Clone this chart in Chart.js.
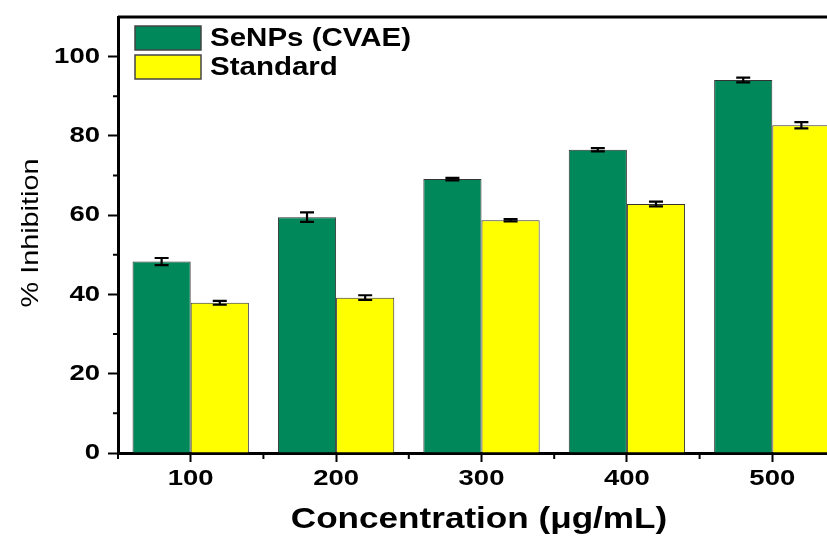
<!DOCTYPE html>
<html>
<head>
<meta charset="utf-8">
<script src="https://cdn.jsdelivr.net/npm/chart.js@4.4.0/dist/chart.umd.min.js"></script>
<style>
  html, body { margin: 0; padding: 0; background: #fff; overflow: hidden; }
  #wrap { width: 827px; height: 536px; overflow: hidden; }
</style>
</head>
<body>
<div id="wrap"><canvas id="graph_canvas" width="845" height="536"></canvas></div>
<script>
const CONCENTRATIONS = ['100', '200', '300', '400', '500'];
const SENPS_VALUES = [48.3, 59.5, 69.1, 76.5, 94.1];
const SENPS_ERRORS = [0.9, 1.2, 0.3, 0.4, 0.6];
const STANDARD_VALUES = [37.9, 39.2, 58.7, 62.8, 82.7];
const STANDARD_ERRORS = [0.5, 0.6, 0.3, 0.6, 0.8];
const Y_MINOR_TICKS = [10, 30, 50, 70, 90];

const GREEN = '#01885a';
const YELLOW = '#ffff00';
const FONT = 'Arial, "Liberation Sans", sans-serif';
const TICK_FONT = 'bold 22px ' + FONT;

// text with a horizontal stretch, the original figure is wider than tall
function stretchedText(ctx, text, x, y, font, sx, angle, align) {
    ctx.save();
    ctx.translate(x, y);
    if (angle) ctx.rotate(angle);
    ctx.scale(sx, 1);
    ctx.font = font;
    ctx.fillStyle = '#000';
    ctx.textAlign = align || 'center';
    ctx.textBaseline = 'middle';
    ctx.fillText(text, 0, 0);
    ctx.restore();
}

const extras = {
    id: 'extras',
    afterDatasetsDraw(chart) {
        // error bars
        const ctx = chart.ctx;
        const yScale = chart.scales.y;
        ctx.save();
        ctx.strokeStyle = '#000';
        ctx.lineWidth = 2.2;
        chart.data.datasets.forEach((ds, i) => {
            chart.getDatasetMeta(i).data.forEach((bar, j) => {
                const top = yScale.getPixelForValue(ds.data[j] + ds.errors[j]);
                const bot = yScale.getPixelForValue(ds.data[j] - ds.errors[j]);
                ctx.beginPath();
                ctx.moveTo(bar.x, top);
                ctx.lineTo(bar.x, bot);
                ctx.moveTo(bar.x - 7, top);
                ctx.lineTo(bar.x + 7, top);
                ctx.moveTo(bar.x - 7, bot);
                ctx.lineTo(bar.x + 7, bot);
                ctx.stroke();
            });
        });
        ctx.restore();
    },
    afterDraw(chart) {
        const ctx = chart.ctx;
        const area = chart.chartArea;
        const xScale = chart.scales.x;
        const yScale = chart.scales.y;
        ctx.save();
        ctx.strokeStyle = '#000';

        // frame top and right
        ctx.lineWidth = 3;
        ctx.beginPath();
        ctx.moveTo(area.left, area.top);
        ctx.lineTo(area.right, area.top);
        ctx.lineTo(area.right, area.bottom);
        ctx.stroke();

        // minor ticks
        ctx.lineWidth = 2;
        ctx.beginPath();
        Y_MINOR_TICKS.forEach(v => {
            const py = yScale.getPixelForValue(v);
            ctx.moveTo(area.left - 5, py);
            ctx.lineTo(area.left, py);
        });
        const n = CONCENTRATIONS.length;
        for (let i = 0; i < n; i++) {
            const px = xScale.left + i * xScale.width / n;
            ctx.moveTo(px, area.bottom);
            ctx.lineTo(px, area.bottom + 6);
        }
        ctx.stroke();

        // tick labels (drawn here so they can be widened like the original)
        yScale.ticks.forEach((t, i) => {
            stretchedText(ctx, String(t.value), area.left - 18, yScale.getPixelForTick(i), TICK_FONT, 1.25, 0, 'right');
        });
        xScale.ticks.forEach((t, i) => {
            stretchedText(ctx, CONCENTRATIONS[t.value], xScale.getPixelForTick(i), 479, TICK_FONT, 1.25, 0);
        });

        // legend
        chart.data.datasets.forEach((ds, i) => {
            const top = 26 + i * 29;
            ctx.fillStyle = ds.backgroundColor;
            ctx.fillRect(135, top, 66, 24);
            ctx.lineWidth = 1.5;
            ctx.strokeStyle = '#444';
            ctx.strokeRect(135, top, 66, 24);
            stretchedText(ctx, ds.label, 210, top + 13, 'bold 25px ' + FONT, 1.18, 0, 'left');
        });

        // axis titles
        stretchedText(ctx, '% Inhibition', 31, 233, '24px ' + FONT, 1.2, -Math.PI / 2);
        stretchedText(ctx, 'Concentration (\u03bcg/mL)', 479, 520, 'bold 30px ' + FONT, 1.17, 0);
        ctx.restore();
    }
};

var graph = new Chart(document.getElementById('graph_canvas'), {
    type: 'bar',
    data: {
        labels: CONCENTRATIONS,
        datasets: [{
            label: 'SeNPs (CVAE)',
            data: SENPS_VALUES,
            errors: SENPS_ERRORS,
            backgroundColor: GREEN,
            borderColor: '#333',
            borderWidth: 1
        }, {
            label: 'Standard',
            data: STANDARD_VALUES,
            errors: STANDARD_ERRORS,
            backgroundColor: YELLOW,
            borderColor: '#333',
            borderWidth: 1
        }]
    },
    options: {
        responsive: false,
        animation: false,
        layout: { padding: { top: 17, right: 0, left: 0, bottom: 0 } },
        datasets: { bar: { categoryPercentage: 0.8, barPercentage: 1.0 } },
        plugins: {
            legend: { display: false },
            tooltip: { enabled: false }
        },
        scales: {
            x: {
                afterFit: s => { s.height = 83; },
                grid: { display: true, drawOnChartArea: false, tickLength: 9, tickWidth: 2, tickColor: '#000', offset: false },
                border: { display: true, color: '#000', width: 3 },
                ticks: { display: false }
            },
            y: {
                min: 0,
                max: 110,
                afterFit: s => { s.width = 118; },
                afterBuildTicks: s => { s.ticks = s.ticks.filter(t => t.value % 20 === 0); },
                grid: { display: true, drawOnChartArea: false, tickLength: 10, tickWidth: 2, tickColor: '#000' },
                border: { display: true, color: '#000', width: 3 },
                ticks: { stepSize: 20, includeBounds: false, display: false }
            }
        }
    },
    plugins: [extras]
});
</script>
</body>
</html>
